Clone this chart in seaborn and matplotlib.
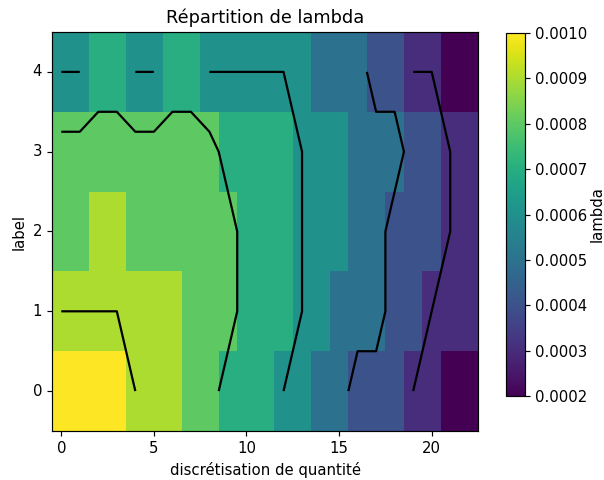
import numpy as np
import pandas as pd
import matplotlib
matplotlib.use("Agg")
import matplotlib.pyplot as plt
import seaborn as sns

# lambda per (label, quantity bin), in units of 1e-4
row_label0 = [10, 10, 10, 10, 9, 9, 9, 8, 8, 7, 7, 7, 6, 6, 5, 5, 4, 4, 4, 3, 3, 2, 2]
row_label1 = [9, 9, 9, 9, 9, 9, 9, 8, 8, 8, 7, 7, 7, 6, 6, 5, 5, 5, 4, 4, 3, 3, 3]
row_label2 = [8, 8, 9, 9, 8, 8, 8, 8, 8, 8, 7, 7, 7, 6, 6, 6, 5, 5, 4, 4, 4, 3, 3]
row_label3 = [8, 8, 8, 8, 8, 8, 8, 8, 8, 7, 7, 7, 7, 6, 6, 6, 5, 5, 5, 4, 4, 3, 3]
row_label4 = [6, 6, 7, 7, 6, 6, 7, 7, 6, 6, 6, 6, 6, 6, 5, 5, 5, 4, 4, 3, 3, 2, 2]
labels = [0, 1, 2, 3, 4]
quantites = list(range(23))
contour_levels = [3, 4.5, 6, 7.5, 9]
unit = 1e-4

grid = np.array([row_label0, row_label1, row_label2, row_label3, row_label4]) * unit
df = pd.DataFrame(grid, index=labels, columns=quantites)
levels = np.array(contour_levels) * unit

fs = 10.7
fig = plt.figure(figsize=(6.04, 4.80), dpi=100)
ax = fig.add_axes([52 / 604, 49 / 480, 426 / 604, 399 / 480])
cax = fig.add_axes([506 / 604, 84 / 480, 19 / 604, 363 / 480])

sns.heatmap(df, ax=ax, cbar_ax=cax, cmap="viridis", vmin=0.0002, vmax=0.001,
            cbar_kws={"label": "lambda"})

# contour lines on cell centres
cx = np.arange(len(quantites)) + 0.5
cy = np.arange(len(labels)) + 0.5
ax.contour(cx, cy, df.values, levels=levels, colors="black", linewidths=1.6)

ax.set_ylim(0, len(labels))
ax.set_xlim(0, len(quantites))
xt = [0, 5, 10, 15, 20]
ax.set_xticks(np.array(xt) + 0.5)
ax.set_xticklabels([str(v) for v in xt], rotation=0)
ax.set_yticks(np.array(labels) + 0.5)
ax.set_yticklabels([str(v) for v in labels], rotation=0)
ax.tick_params(length=3.7, width=0.85, labelsize=fs)
for s in ax.spines.values():
    s.set_visible(True)
    s.set_linewidth(0.85)
    s.set_color("black")

ax.set_title("Répartition de lambda", fontsize=12.8, pad=6.5)
ax.set_xlabel("discrétisation de quantité", fontsize=fs)
ax.set_ylabel("label", fontsize=fs)

cb = ax.collections[0].colorbar
cb.outline.set_visible(True)
cb.outline.set_linewidth(0.85)
cb.outline.set_edgecolor("black")
cb.set_ticks([0.0002, 0.0003, 0.0004, 0.0005, 0.0006, 0.0007, 0.0008, 0.0009, 0.0010])
cb.ax.tick_params(labelsize=fs, length=3.7, width=0.85)
cb.set_label("lambda", fontsize=fs, labelpad=2)

fig.savefig("out.png", dpi=100)
